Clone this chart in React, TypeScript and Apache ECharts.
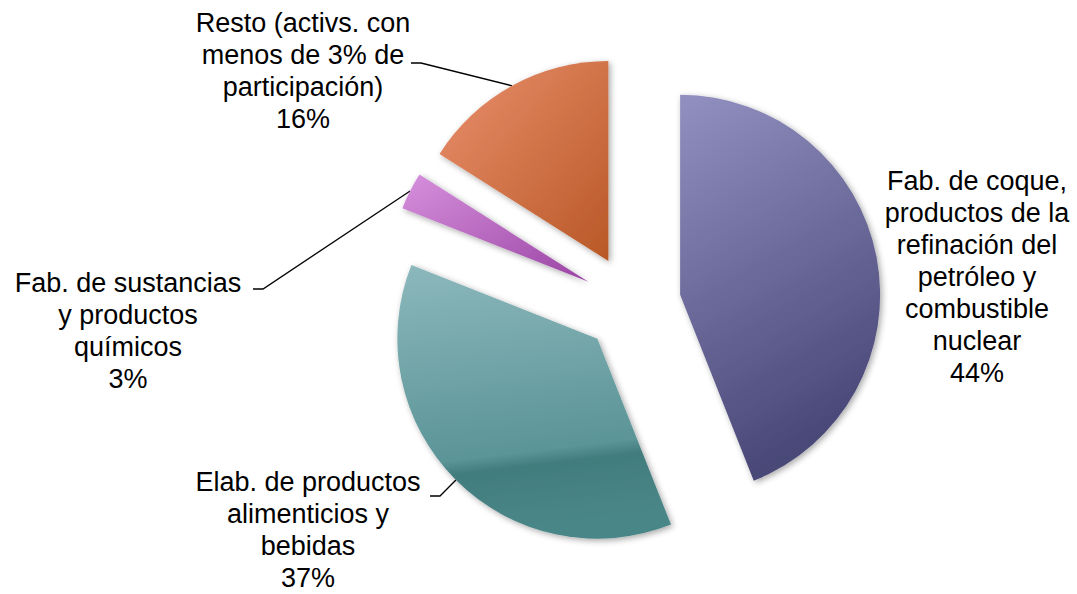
import React, { useEffect, useRef } from "react";
import * as echarts from "echarts";

const categories = [
  "Fab. de coque,\nproductos de la\nrefinación del\npetróleo y\ncombustible\nnuclear",
  "Elab. de productos\nalimenticios y\nbebidas",
  "Fab. de sustancias\ny productos\nquímicos",
  "Resto (activs. con\nmenos de 3% de\nparticipación)",
];
const values = [44, 37, 3, 16];

const colors = [
  ["#9190c0", "#4a4878"],
  ["#8cb8bc", "#44807f"],
  ["#d690dc", "#9a44a4"],
  ["#ea906e", "#b85826"],
];

// label centres and leader bends (layout only)
const labelPos = [
  { x: 977, y: 277 },
  { x: 308, y: 530 },
  { x: 128, y: 331 },
  { x: 303, y: 71 },
];
const leader = [
  null,
  { ex: 430, bx: 440, y: 496 },
  { ex: 253, bx: 263, y: 289 },
  { ex: 411, bx: 421, y: 63 },
];

const CX = 632;
const CY = 304;
const R = 200;
const OFFSET = 49;

function fillFor(i: number) {
  if (i === 1) {
    return new echarts.graphic.LinearGradient(0, 0, 0.12, 1, [
      { offset: 0, color: "#8cb8bc" },
      { offset: 0.73, color: "#5b9497" },
      { offset: 0.78, color: "#427c7d" },
      { offset: 1, color: "#4a8688" },
    ]);
  }
  return new echarts.graphic.LinearGradient(0, 0, i === 0 ? 0.3 : 1, 1, [
    { offset: 0, color: colors[i][0] },
    { offset: 1, color: colors[i][1] },
  ]);
}

export default function App() {
  const ref = useRef<HTMLDivElement>(null);
  useEffect(() => {
    if (!ref.current) return;
    const chart = echarts.init(ref.current, undefined, { renderer: "svg" });
    const total = values.reduce((a, b) => a + b, 0);
    const mids: number[] = [];
    let acc = 0;
    values.forEach((v) => {
      mids.push(((acc + v / 2) / total) * Math.PI * 2);
      acc += v;
    });
    const series = values.map((_, s) => {
      const cx = CX + OFFSET * Math.sin(mids[s]);
      const cy = CY - OFFSET * Math.cos(mids[s]);
      const data = values.map((v, i) =>
        i === s
          ? {
              value: v,
              name: categories[i],
              itemStyle: {
                color: fillFor(i),
                shadowBlur: 6,
                shadowColor: "rgba(0,0,0,0.35)",
                shadowOffsetX: 2,
                shadowOffsetY: 2,
              },
            }
          : {
              value: v,
              name: categories[i],
              itemStyle: { color: "rgba(0,0,0,0)" },
              label: { show: false },
              labelLine: { show: false },
            }
      );
      return {
        type: "pie",
        center: [cx, cy],
        radius: [0, R],
        startAngle: 90,
        clockwise: true,
        silent: true,
        avoidLabelOverlap: false,
        emphasis: { disabled: true },
        label: {
          show: true,
          position: "outside",
          formatter: (p: any) => `${p.name}\n${p.percent.toFixed(0)}%`,
          color: "#000000",
          fontFamily: "Liberation Sans, Arial, sans-serif",
          fontSize: 27,
          lineHeight: 32,
          align: "center",
        },
        labelLine: {
          show: true,
          lineStyle: { color: "#000000", width: 1.3 },
        },
        labelLayout: (p: any) => {
          const i = p.dataIndex;
          if (i !== s) return {};
          const px = cx + R * Math.sin(mids[i]);
          const py = cy - R * Math.cos(mids[i]);
          const l = leader[i];
          const res: any = {
            x: labelPos[i].x,
            y: labelPos[i].y,
            align: "center",
            verticalAlign: "middle",
          };
          res.labelLinePoints = l
            ? [
                [px, py],
                [l.bx, l.y],
                [l.ex, l.y],
              ]
            : [
                [px, py],
                [px, py],
                [px, py],
              ];
          return res;
        },
        data,
      };
    });
    chart.setOption({
      animation: false,
      backgroundColor: "#ffffff",
      series,
    });
    return () => chart.dispose();
  }, []);
  return (
    <div
      ref={ref}
      style={{ position: "absolute", left: 0, top: 0, width: 1077, height: 594 }}
    />
  );
}
